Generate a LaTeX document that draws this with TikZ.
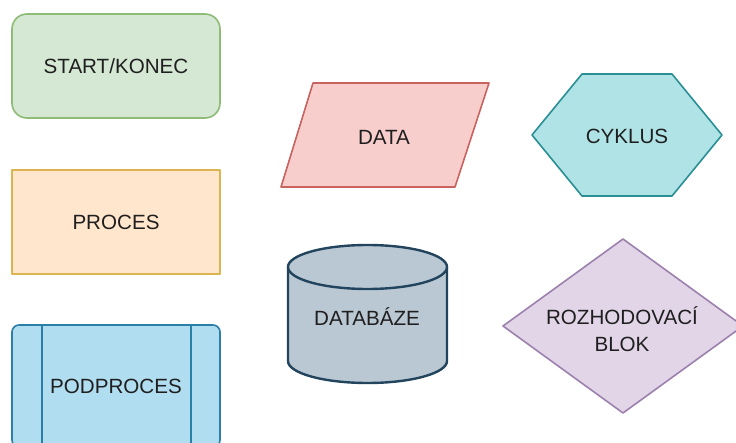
\documentclass[tikz,border=0pt]{standalone}
\usepackage{fontspec}
\setmainfont{Liberation Sans}
\usepackage{tikz}
\usetikzlibrary{calc}
\definecolor{start_fill}{HTML}{D5E8D4}
\definecolor{start_line}{HTML}{8EBC76}
\definecolor{proc_fill}{HTML}{FFE6CC}
\definecolor{proc_line}{HTML}{DDB550}
\definecolor{sub_fill}{HTML}{B1DDF0}
\definecolor{sub_line}{HTML}{2A7FA6}
\definecolor{data_fill}{HTML}{F8CECC}
\definecolor{data_line}{HTML}{C9635F}
\definecolor{loop_fill}{HTML}{B0E3E6}
\definecolor{loop_line}{HTML}{2A8F95}
\definecolor{db_fill}{HTML}{BAC8D3}
\definecolor{db_line}{HTML}{23445D}
\definecolor{dec_fill}{HTML}{E1D5E7}
\definecolor{dec_line}{HTML}{9D80AE}

\begin{document}
\begin{tikzpicture}[x=1pt,y=-1pt,
    every node/.style={font=\fontsize{20.6}{27}\selectfont,text=black!88,align=center},
    outline/.style={line width=1.6pt,line join=round}]
  \useasboundingbox (0,0) rectangle (736,443);
  \clip (0,0) rectangle (736,443);
  % start / end
  \draw[outline,start_line,fill=start_fill,rounded corners=15pt] (12,14) rectangle (220,118);
  \node (start) at (116,66) {START/KONEC};
  % process
  \draw[outline,proc_line,fill=proc_fill] (12,170) rectangle (220,274);
  \node (proces) at (116,222) {PROCES};
  % subprocess
  \draw[outline,sub_line,fill=sub_fill,rounded corners=7pt] (12,325) rectangle (220,447);
  \draw[outline,sub_line] (42,325) -- (42,443) (191,325) -- (191,443);
  \node (podproces) at (116,386) {PODPROCES};
  % data
  \coordinate (D1) at (313,83);
  \coordinate (D2) at (489,83);
  \coordinate (D3) at (455,187);
  \coordinate (D4) at (281,187);
  \draw[outline,data_line,fill=data_fill] (D1) -- (D2) -- (D3) -- (D4) -- cycle;
  \node (data) at (384,137) {DATA};
  % loop
  \coordinate (C1) at (532,135);
  \coordinate (C2) at (582,74);
  \coordinate (C3) at (672,74);
  \coordinate (C4) at (722,135);
  \coordinate (C5) at (672,196);
  \coordinate (C6) at (582,196);
  \draw[outline,loop_line,fill=loop_fill] (C1) -- (C2) -- (C3) -- (C4) -- (C5) -- (C6) -- cycle;
  \node (cyklus) at (627,136) {CYKLUS};
  % database
  \draw[outline,line width=2.4pt,db_line,fill=db_fill] (288,267) -- (288,361)
    arc[start angle=180,end angle=0,x radius=79.5,y radius=22] -- (447,267);
  \draw[outline,line width=2.4pt,db_line,fill=db_fill] (367.5,267) ellipse[x radius=79.5,y radius=22];
  \node (databaze) at (367,317) {DATABÁZE};
  % decision
  \coordinate (R1) at (623,239);
  \coordinate (R2) at (743,326);
  \coordinate (R3) at (623,413);
  \coordinate (R4) at (503,326);
  \draw[outline,dec_line,fill=dec_fill] (R1) -- (R2) -- (R3) -- (R4) -- cycle;
  \node (rozhod) at (622,329) {ROZHODOVACÍ\\BLOK};
\end{tikzpicture}
\end{document}
